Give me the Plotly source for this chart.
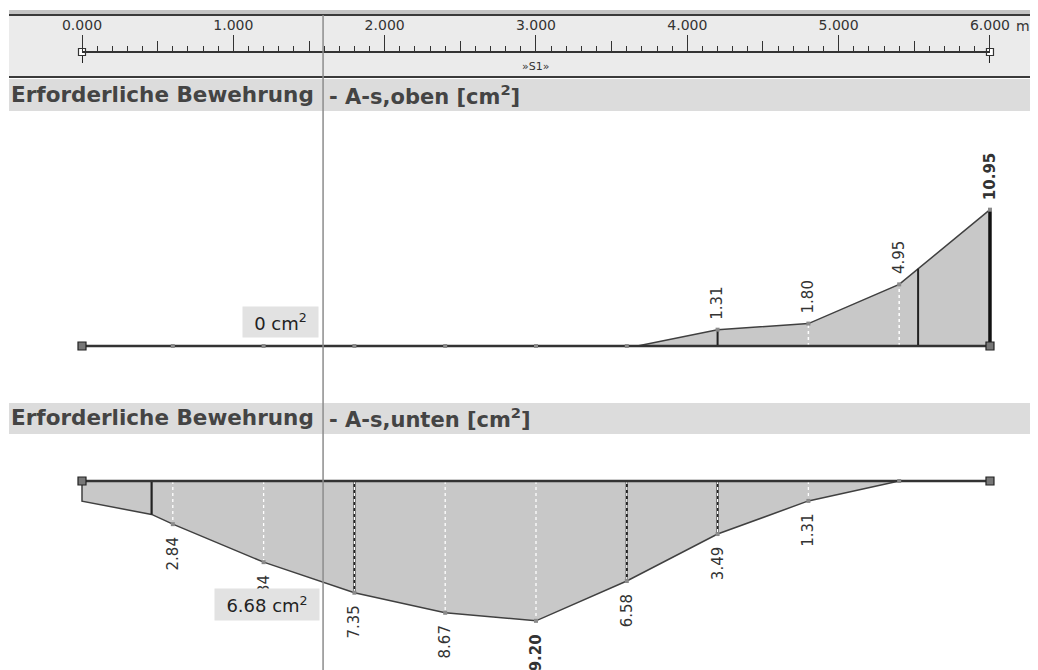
import numpy as np
import plotly.graph_objects as go

# ---------------- data ----------------
node_x = [0.0, 0.6, 1.2, 1.8, 2.4, 3.0, 3.6, 4.2, 4.8, 5.4, 6.0]

top_x = [0.0, 3.67, 4.2, 4.8, 5.4, 6.0]
top_as = [0.0, 0.0, 1.31, 1.80, 4.95, 10.95]
top_label_x = [4.2, 4.8, 5.4, 6.0]
top_label_v = [1.31, 1.80, 4.95, 10.95]
top_solid_x = [4.2, 5.525]
top_thick_x = [6.0]
top_dash_x = [4.8, 5.4]

bot_x = [0.0, 0.0, 0.46, 0.6, 1.2, 1.8, 2.4, 3.0, 3.6, 4.2, 4.8, 5.4, 6.0]
bot_as = [0.0, 1.33, 2.20, 2.84, 5.34, 7.35, 8.67, 9.20, 6.58, 3.49, 1.31, 0.0, 0.0]
bot_label_x = [0.6, 1.2, 1.8, 2.4, 3.0, 3.6, 4.2, 4.8]
bot_label_v = [2.84, 5.34, 7.35, 8.67, 9.20, 6.58, 3.49, 1.31]
bot_solid_x = [0.46, 1.8, 3.6, 4.2]
bot_dash_x = [0.6, 1.2, 1.8, 2.4, 3.0, 3.6, 4.2, 4.8]

ruler_vals = [0, 1, 2, 3, 4, 5, 6]
ruler_text = ["0.000", "1.000", "2.000", "3.000", "4.000", "5.000", "6.000"]
ruler_unit = "m"
member_name = "»S1»"
cursor_x = 1.593
cursor_top_text = "0 cm<sup>2</sup>"
cursor_bot_text = "6.68 cm<sup>2</sup>"
title_main = "Erforderliche Bewehrung"
title_top = "- A-s,oben [cm<sup>2</sup>]"
title_bot = "- A-s,unten [cm<sup>2</sup>]"

# ---------------- layout geometry (page pixels) ----------------
PW, PH = 1038, 670          # page size
OFF = 8                     # default body margin of the html page
W, H = PW - OFF, PH - OFF   # figure size
X0_PX, PX_PER_M = 82, 151.33
TOP_BASE, TOP_SCALE = 346, 12.45
BOT_BASE, BOT_SCALE = 481, 15.2
RULER_Y = 52
LEFT = 9

def px(v):
    return (v - OFF) / W

def py(v):
    return 1 - (v - OFF) / H

FILL = "#c8c8c8"
DARK = "#333333"
OUT = "#404040"
FONT = "DejaVu Sans"

fig = go.Figure()

def vlines(xs, xp, fp):
    xx, yy = [], []
    for x in xs:
        v = float(np.interp(x, xp, fp))
        xx += [x, x, None]
        yy += [0, v, None]
    return xx, yy

# ---------- upper diagram ----------
fig.add_trace(go.Scatter(x=top_x, y=top_as, mode="lines", fill="tozeroy",
                         fillcolor=FILL, line=dict(color=OUT, width=1.5),
                         yaxis="y", hoverinfo="skip"))
xx, yy = vlines(top_solid_x, top_x, top_as)
fig.add_trace(go.Scatter(x=xx, y=yy, mode="lines", line=dict(color="#222", width=2),
                         yaxis="y", hoverinfo="skip"))
xx, yy = vlines(top_dash_x, top_x, top_as)
fig.add_trace(go.Scatter(x=xx, y=yy, mode="lines",
                         line=dict(color="white", width=1.5, dash="3px,3px"),
                         yaxis="y", hoverinfo="skip"))
xx, yy = vlines(top_thick_x, top_x, top_as)
fig.add_trace(go.Scatter(x=xx, y=yy, mode="lines", line=dict(color="#111", width=3.5),
                         yaxis="y", hoverinfo="skip"))
fig.add_trace(go.Scatter(x=[node_x[0], node_x[-1]], y=[0, 0], mode="lines",
                         line=dict(color=DARK, width=2.5), yaxis="y", hoverinfo="skip"))
top_node_v = [float(np.interp(x, top_x, top_as)) for x in node_x[1:-1]]
fig.add_trace(go.Scatter(x=node_x[1:-1], y=top_node_v, mode="markers",
                         marker=dict(symbol="square", size=4, color="#8a8a8a"),
                         yaxis="y", hoverinfo="skip"))
fig.add_trace(go.Scatter(x=[node_x[-1]], y=[top_as[-1]], mode="markers",
                         marker=dict(symbol="square", size=4, color="#8a8a8a"),
                         yaxis="y", hoverinfo="skip"))
fig.add_trace(go.Scatter(x=[node_x[0], node_x[-1]], y=[0, 0], mode="markers",
                         marker=dict(symbol="square", size=8, color="#777",
                                     line=dict(color="#222", width=1.2)),
                         yaxis="y", hoverinfo="skip", cliponaxis=False))

# ---------- lower diagram ----------
fig.add_trace(go.Scatter(x=bot_x, y=bot_as, mode="lines", fill="tozeroy",
                         fillcolor=FILL, line=dict(color=OUT, width=1.5),
                         yaxis="y2", hoverinfo="skip"))
xx, yy = vlines(bot_solid_x, bot_x[1:], bot_as[1:])
fig.add_trace(go.Scatter(x=xx, y=yy, mode="lines", line=dict(color="#222", width=2.2),
                         yaxis="y2", hoverinfo="skip"))
xx, yy = vlines(bot_dash_x, bot_x[1:], bot_as[1:])
fig.add_trace(go.Scatter(x=xx, y=yy, mode="lines",
                         line=dict(color="white", width=1.3, dash="3px,3px"),
                         yaxis="y2", hoverinfo="skip"))
fig.add_trace(go.Scatter(x=[node_x[0], node_x[-1]], y=[0, 0], mode="lines",
                         line=dict(color=DARK, width=2.5), yaxis="y2", hoverinfo="skip"))
bot_node_v = [float(np.interp(x, bot_x[1:], bot_as[1:])) for x in node_x[1:-1]]
fig.add_trace(go.Scatter(x=node_x[1:-1], y=bot_node_v, mode="markers",
                         marker=dict(symbol="square", size=4, color="#8a8a8a"),
                         yaxis="y2", hoverinfo="skip"))
fig.add_trace(go.Scatter(x=[node_x[0], node_x[-1]], y=[0, 0], mode="markers",
                         marker=dict(symbol="square", size=8, color="#777",
                                     line=dict(color="#222", width=1.2)),
                         yaxis="y2", hoverinfo="skip", cliponaxis=False))

# ---------- ruler end markers (pixel y axis) ----------
ends = [ruler_vals[0], ruler_vals[-1]]
fig.add_trace(go.Scatter(x=[ends[0], ends[0], None, ends[1], ends[1]],
                         y=[RULER_Y, RULER_Y + 11, None, RULER_Y, RULER_Y + 11],
                         mode="lines", line=dict(color="#222", width=2),
                         xaxis="x2", yaxis="y3", hoverinfo="skip", cliponaxis=False))
fig.add_trace(go.Scatter(x=ends, y=[RULER_Y, RULER_Y], mode="markers",
                         marker=dict(symbol="square", size=7, color="white",
                                     line=dict(color="#333", width=1.2)),
                         xaxis="x2", yaxis="y3", hoverinfo="skip", cliponaxis=False))
fig.add_trace(go.Scatter(x=[ruler_vals[3]], y=[RULER_Y], mode="markers",
                         marker=dict(size=1, opacity=0),
                         xaxis="x3", yaxis="y3", hoverinfo="skip"))

# ---------- annotations ----------
ann = []
for x, v in zip(top_label_x, top_label_v):
    t = f"{v:.2f}"
    if v == max(top_label_v):
        t = f"<b>{t}</b>"
    ann.append(dict(x=x, y=v, xref="x", yref="y", text=t, textangle=-90,
                    showarrow=False, xanchor="center", yanchor="bottom", yshift=8,
                    font=dict(family=FONT, size=15, color=DARK)))
for x, v in zip(bot_label_x, bot_label_v):
    t = f"{v:.2f}"
    if v == max(bot_label_v):
        t = f"<b>{t}</b>"
    ann.append(dict(x=x, y=v, xref="x", yref="y2", text=t, textangle=-90,
                    showarrow=False, xanchor="center", yanchor="top", yshift=-11,
                    font=dict(family=FONT, size=15, color=DARK)))

ann.append(dict(x=cursor_x, y=0, xref="x", yref="y", text=cursor_top_text,
                showarrow=False, xanchor="right", yanchor="bottom", xshift=-4, yshift=8,
                width=75, height=30, borderpad=0, bgcolor="#e2e2e2",
                font=dict(family=FONT, size=18, color="#222")))
cur_bot_v = float(np.interp(cursor_x, bot_x[1:], bot_as[1:]))
ann.append(dict(x=cursor_x, y=cur_bot_v, xref="x", yref="y2", text=cursor_bot_text,
                showarrow=False, xanchor="right", yanchor="top", xshift=-3, yshift=-6,
                width=104, height=31, borderpad=0, bgcolor="#e2e2e2",
                font=dict(family=FONT, size=18, color="#222")))

for ytxt, sub in [(95, title_top), (418, title_bot)]:
    ann.append(dict(x=px(LEFT), y=py(ytxt), xref="paper", yref="paper",
                    text=f"<b>{title_main}</b>", showarrow=False,
                    xanchor="left", yanchor="middle",
                    font=dict(family=FONT, size=21.5, color="#444")))
    ann.append(dict(x=px(327), y=py(ytxt), xref="paper", yref="paper",
                    text=f"<b>{sub}</b>", showarrow=False,
                    xanchor="left", yanchor="middle",
                    font=dict(family=FONT, size=21, color="#444")))

ann.append(dict(x=ruler_vals[-1], y=py(26), xref="x2", yref="paper", text=ruler_unit,
                showarrow=False, xanchor="left", yanchor="middle", xshift=24,
                font=dict(family=FONT, size=14, color=DARK)))
ann.append(dict(x=ruler_vals[3], y=py(66), xref="x2", yref="paper", text=member_name,
                showarrow=False, xanchor="center", yanchor="middle",
                font=dict(family=FONT, size=11, color=DARK)))

# ---------- shapes ----------
shapes = [
    dict(type="rect", xref="paper", yref="paper", x0=px(LEFT), x1=1, y0=py(14), y1=py(10),
         fillcolor="#c4c4c4", line_width=0, layer="below"),
    dict(type="rect", xref="paper", yref="paper", x0=px(LEFT), x1=1, y0=py(77), y1=py(14),
         fillcolor="#ebebeb", line_width=0, layer="below"),
    dict(type="line", xref="paper", yref="paper", x0=px(LEFT), x1=1, y0=py(15), y1=py(15),
         line=dict(color="#3a3a3a", width=2), layer="below"),
    dict(type="line", xref="paper", yref="paper", x0=px(LEFT), x1=1, y0=py(77), y1=py(77),
         line=dict(color="#3a3a3a", width=2), layer="below"),
    dict(type="rect", xref="paper", yref="paper", x0=px(LEFT), x1=1, y0=py(111), y1=py(79),
         fillcolor="#dcdcdc", line_width=0, layer="below"),
    dict(type="rect", xref="paper", yref="paper", x0=px(LEFT), x1=1, y0=py(434), y1=py(403),
         fillcolor="#dcdcdc", line_width=0, layer="below"),
    dict(type="line", xref="x", yref="paper", x0=cursor_x, x1=cursor_x, y0=0, y1=py(15),
         line=dict(color="#8c8c8c", width=1.5), layer="above"),
]

ruler_domain = [px(X0_PX), px(X0_PX + ruler_vals[-1] * PX_PER_M)]

fig.update_layout(
    width=W, height=H,
    margin=dict(l=0, r=0, t=0, b=0, pad=0, autoexpand=False),
    paper_bgcolor="white", plot_bgcolor="rgba(0,0,0,0)",
    showlegend=False, annotations=ann, shapes=shapes,
    xaxis=dict(range=[(OFF - X0_PX) / PX_PER_M, (PW - X0_PX) / PX_PER_M], domain=[0, 1],
               visible=False, fixedrange=True, automargin=False),
    yaxis=dict(range=[-(PH - TOP_BASE) / TOP_SCALE, (TOP_BASE - OFF) / TOP_SCALE],
               domain=[0, 1], visible=False, fixedrange=True, automargin=False),
    yaxis2=dict(range=[(PH - BOT_BASE) / BOT_SCALE, -(BOT_BASE - OFF) / BOT_SCALE],
                overlaying="y", visible=False, fixedrange=True, automargin=False),
    yaxis3=dict(range=[PH, OFF], overlaying="y", visible=False, fixedrange=True,
                automargin=False),
    xaxis2=dict(domain=ruler_domain, range=[ruler_vals[0], ruler_vals[-1]],
                anchor="free", position=py(RULER_Y), side="top",
                showline=True, linecolor=DARK, linewidth=1.5,
                ticks="outside", ticklen=16, tickwidth=1, tickcolor=DARK,
                tickvals=ruler_vals, ticktext=ruler_text,
                tickfont=dict(family=FONT, size=14, color=DARK),
                minor=dict(dtick=0.1, tick0=0, ticks="outside", ticklen=5,
                           tickwidth=1, tickcolor=DARK, showgrid=False),
                showgrid=False, zeroline=False, fixedrange=True, automargin=False),
    xaxis3=dict(domain=ruler_domain, range=[ruler_vals[0], ruler_vals[-1]],
                anchor="free", position=py(RULER_Y), side="top",
                showline=False, ticks="outside", ticklen=11, tickwidth=1, tickcolor=DARK,
                tick0=0.5, dtick=1, showticklabels=False,
                showgrid=False, zeroline=False, fixedrange=True, automargin=False),
)

fig.write_html("out.html")
